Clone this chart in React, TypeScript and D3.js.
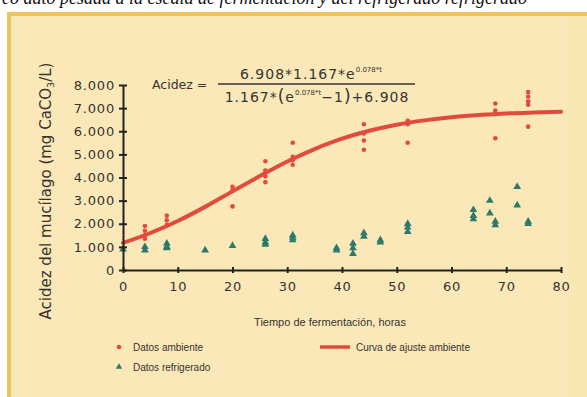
import { useEffect, useRef } from "react";
import * as d3 from "d3";

// Datos ambiente: horas de fermentación y acidez (mg CaCO3/L)
const ambienteHoras = [4, 4, 4, 4, 8, 8, 8, 20, 20, 20, 26, 26, 26, 26, 31, 31, 31, 31, 44, 44, 44, 44, 52, 52, 52, 68, 68, 68, 68, 74, 74, 74, 74, 74];
const ambienteAcidez = [1900, 1700, 1500, 1350, 2350, 2150, 1950, 3600, 3450, 2750, 4700, 4300, 4050, 3800, 5500, 4900, 4750, 4550, 6300, 5900, 5600, 5200, 6450, 6300, 5500, 7200, 6900, 6750, 5700, 7700, 7500, 7300, 7150, 6200];

// Datos refrigerado
const refrigHoras = [0, 4, 4, 8, 8, 8, 15, 20, 26, 26, 26, 31, 31, 31, 39, 39, 42, 42, 42, 44, 44, 47, 47, 52, 52, 52, 64, 64, 64, 67, 67, 68, 68, 72, 72, 74, 74];
const refrigAcidez = [900, 1000, 850, 1150, 1000, 950, 850, 1050, 1350, 1200, 1100, 1500, 1400, 1300, 950, 850, 1150, 950, 700, 1600, 1450, 1300, 1200, 2000, 1850, 1650, 2600, 2350, 2200, 3000, 2450, 2100, 1950, 3600, 2800, 2100, 2000];

// Curva de ajuste ambiente
const curvaHoras = [0, 5, 10, 15, 20, 25, 30, 35, 40, 45, 50, 55, 60, 65, 70, 75, 80];
const curvaAcidez = [1170, 1600, 2120, 2730, 3400, 4060, 4690, 5230, 5680, 6020, 6280, 6470, 6610, 6700, 6770, 6810, 6840];

const xTicks = [0, 10, 20, 30, 40, 50, 60, 70, 80];
const yTicks = [0, 1000, 2000, 3000, 4000, 5000, 6000, 7000, 8000];

const legendLabels = ["Datos ambiente", "Datos refrigerado", "Curva de ajuste ambiente"];

const width = 587;
const height = 397;
const red = "#e24b3c";
const green = "#2b7a6c";
const ink = "#363330";
const font = "DejaVu Sans, sans-serif";

const App = () => {
  const xAxisRef = useRef<SVGGElement>(null);
  const yAxisRef = useRef<SVGGElement>(null);

  const x = d3.scaleLinear().domain([0, 80]).range([123, 561]);
  const y = d3.scaleLinear().domain([0, 8000]).range([270, 85]);

  const fmt = d3.formatLocale({ decimal: ",", thousands: ".", grouping: [3], currency: ["", ""] }).format(",");

  const line = d3
    .line<number>()
    .x((d, i) => x(curvaHoras[i]))
    .y((d) => y(d))
    .curve(d3.curveMonotoneX);

  const tri = d3.symbol().type(d3.symbolTriangle).size(26)() as string;

  useEffect(() => {
    // eje Y
    const yAxis = d3.axisLeft(y).tickValues(yTicks).tickSize(4).tickSizeOuter(0).tickPadding(4).tickFormat((d) => fmt(d as number));
    const gy = d3.select(yAxisRef.current).call(yAxis);
    gy.select(".domain").attr("stroke", "#222").attr("stroke-width", 2);
    gy.selectAll(".tick line").attr("x1", 4).attr("x2", -4).attr("stroke", "#222").attr("stroke-width", 2);
    gy.selectAll(".tick text")
      .attr("fill", ink)
      .attr("font-size", 13)
      .attr("font-family", font)
      .attr("letter-spacing", 0.8);

    // eje X
    const xAxis = d3.axisBottom(x).tickValues(xTicks).tickSize(3).tickSizeOuter(0).tickPadding(9);
    const gx = d3.select(xAxisRef.current).call(xAxis);
    gx.select(".domain").attr("stroke", "#222").attr("stroke-width", 2);
    gx.selectAll(".tick line").attr("y1", -3).attr("y2", 3).attr("stroke", "#222").attr("stroke-width", 2);
    gx.selectAll(".tick text")
      .attr("fill", ink)
      .attr("font-size", 13)
      .attr("font-family", font)
      .attr("letter-spacing", 0.8);
  }, []);

  return (
    <svg width={width} height={height} style={{ position: "absolute", left: 0, top: 0, background: "#fff" }}>
      {/* texto cortado de la página */}
      <text x={2} y={4} fontFamily="Liberation Serif, serif" fontStyle="italic" fontSize={18} fill="#111">
        co dato pesada a la escala de fermentación y del refrigerado refrigerado
      </text>

      {/* recuadro */}
      <rect x={9} y={14} width={590} height={400} fill="#fbe8b8" stroke="#eec25e" strokeWidth={4} />
      <rect x={570} y={16} width={17} height={390} fill="#f9e6ae" opacity={0.6} />

      {/* ecuación */}
      <g fontFamily={font} fill={ink}>
        <text x={152} y={89} fontSize={12.5}>Acidez =</text>
        <text x={311} y={79} fontSize={14} textAnchor="middle" letterSpacing={1}>
          6.908*1.167*e<tspan fontSize={7} dy={-7} letterSpacing={0}>0.078*t</tspan>
        </text>
        <line x1={218} x2={415} y1={84} y2={84} stroke={ink} strokeWidth={1.3} />
        <text x={317} y={102} fontSize={14} textAnchor="middle" letterSpacing={1}>
          1.167*<tspan fontSize={17}>(</tspan>e<tspan fontSize={7} dy={-7} letterSpacing={0}>0.078*t</tspan>
          <tspan dy={7}>−1</tspan><tspan fontSize={17}>)</tspan>+6.908
        </text>
      </g>

      {/* curva de ajuste */}
      <path d={line(curvaAcidez) ?? ""} fill="none" stroke={red} strokeWidth={4} strokeLinecap="round" />

      {/* datos ambiente */}
      {ambienteAcidez.map((v, i) => (
        <circle key={"a" + i} cx={x(ambienteHoras[i])} cy={y(v)} r={2.3} fill={red} />
      ))}

      {/* datos refrigerado */}
      {refrigAcidez.map((v, i) => (
        <path key={"r" + i} d={tri} transform={`translate(${x(refrigHoras[i])},${y(v)})`} fill={green} />
      ))}

      <g ref={xAxisRef} transform={`translate(0,${y(0)})`} />
      <g ref={yAxisRef} transform={`translate(${x(0)},0)`} />

      {/* títulos de ejes */}
      <text x={330} y={326} textAnchor="middle" fontFamily="Liberation Sans, sans-serif" fontSize={11} fill={ink}>
        Tiempo de fermentación, horas
      </text>
      <text
        transform="translate(51,191) rotate(-90)"
        textAnchor="middle"
        fontFamily={font}
        fontSize={15}
        fill={ink}
      >
        Acidez del mucílago (mg CaCO<tspan fontSize={9.5} dy={3}>3</tspan><tspan dy={-3}>/L)</tspan>
      </text>

      {/* leyenda */}
      <g fontFamily="Liberation Sans, sans-serif" fontSize={10} fill={ink}>
        <circle cx={119} cy={347} r={2.3} fill={red} />
        <text x={133} y={350.5}>{legendLabels[0]}</text>
        <path d={d3.symbol().type(d3.symbolTriangle).size(18)() as string} transform="translate(119,367)" fill={green} />
        <text x={133} y={370.5}>{legendLabels[1]}</text>
        <line x1={320} x2={350} y1={347} y2={347} stroke={red} strokeWidth={3.5} />
        <text x={356} y={350.5}>{legendLabels[2]}</text>
      </g>
    </svg>
  );
};

export default App;
